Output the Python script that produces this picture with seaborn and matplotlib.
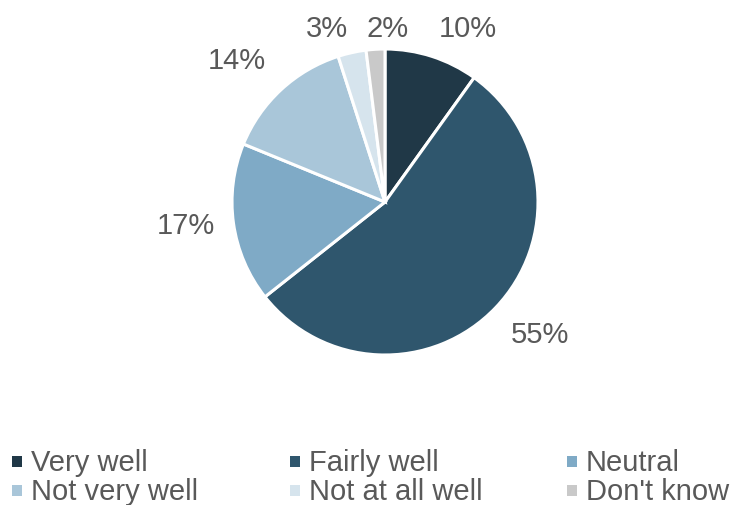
import matplotlib
matplotlib.use("Agg")
import matplotlib.pyplot as plt
import seaborn as sns
from matplotlib.patches import Rectangle

sns.set_theme(style="white")
plt.rcParams["font.family"] = ["Liberation Sans", "DejaVu Sans"]

categories = ["Very well", "Fairly well", "Neutral", "Not very well", "Not at all well", "Don't know"]
values = [10, 55, 17, 14, 3, 2]
colors = ["#203847", "#2F566D", "#7FAAC6", "#A9C6D9", "#D6E4ED", "#C9C9C9"]
text_color = "#595959"

W, H = 732, 506
fig = plt.figure(figsize=(W / 100, H / 100), dpi=100)

# pie axes: centre (385, 203) px, radius 153 px
cx, cy, r = 385, 203, 153
ax = fig.add_axes([(cx - r) / W, (H - cy - r) / H, 2 * r / W, 2 * r / H])
wedges, texts = ax.pie(
    values,
    colors=colors,
    startangle=90,
    counterclock=False,
    labels=[f"{v}%" for v in values],
    labeldistance=1.31,
    wedgeprops=dict(edgecolor="white", linewidth=2.2),
    textprops=dict(color=text_color, fontsize=21),
)
ax.set_xlim(-1, 1)
ax.set_ylim(-1, 1)
ax.set_aspect("equal")
ax.axis("off")

# label positions (in pie radii) placed just outside each wedge
nudged = {0: (0.54, 1.14), 1: (1.01, -0.86), 2: (-1.30, -0.15),
          3: (-0.97, 0.93), 4: (-0.38, 1.14), 5: (0.02, 1.14)}
for i, t in enumerate(texts):
    t.set_ha("center")
    t.set_va("center")
    if i in nudged:
        t.set_position(nudged[i])
    t.set_clip_on(False)

# legend laid out in three columns, two rows
col_x = [12, 290, 567]
row_y = [462, 491]
for i, (name, c) in enumerate(zip(categories, colors)):
    col, row = i % 3, i // 3
    x0, y0 = col_x[col], row_y[row]
    fig.patches.append(Rectangle(((x0) / W, (H - y0 - 5.5) / H), 10 / W, 11 / H,
                                 transform=fig.transFigure, facecolor=c, edgecolor="none"))
    fig.text((x0 + 19) / W, (H - y0 - 1) / H, name, color=text_color, fontsize=21,
             ha="left", va="center")

fig.savefig("out.png", dpi=100)
